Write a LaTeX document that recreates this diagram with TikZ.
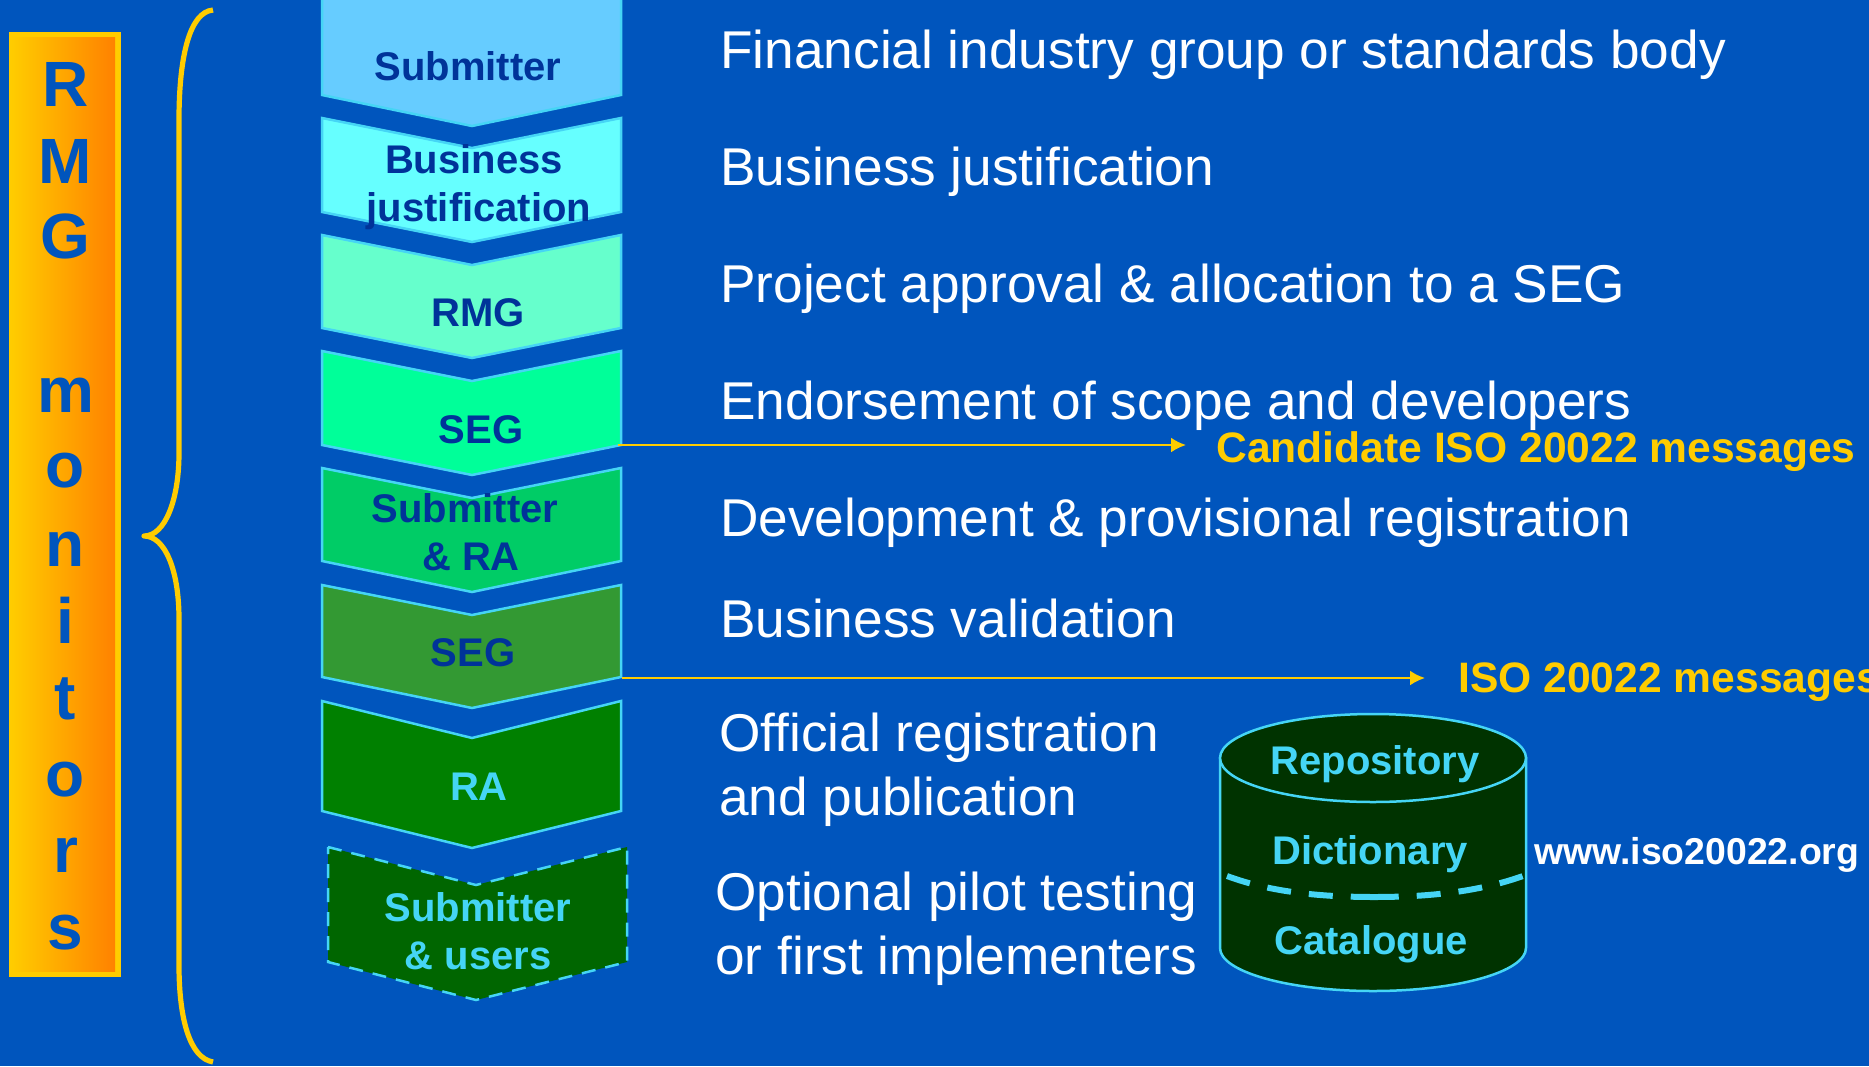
\documentclass[tikz,border=0pt]{standalone}
\usepackage{fontspec}
\setmainfont{Liberation Sans}
\usetikzlibrary{arrows.meta}
\definecolor{bgblue}{HTML}{0055BD}
\definecolor{gold}{HTML}{FFCC00}
\definecolor{orng}{HTML}{FF6600}
\definecolor{cyanline}{HTML}{45D5F5}
\definecolor{dkblue}{HTML}{003399}
\definecolor{chA}{HTML}{66CCFF}
\definecolor{chB}{HTML}{66FFFF}
\definecolor{chC}{HTML}{66FFCC}
\definecolor{chD}{HTML}{00FF99}
\definecolor{chE}{HTML}{00CC66}
\definecolor{chF}{HTML}{339933}
\definecolor{chG}{HTML}{008000}
\definecolor{chH}{HTML}{006600}
\definecolor{cylfill}{HTML}{003300}
\pgfdeclarehorizontalshading{rmgshade}{100bp}{color(0bp)=(gold);color(26bp)=(gold);color(93bp)=(orng);color(100bp)=(orng)}
\tikzset{
  chev/.style={draw=cyanline,line width=1.25pt,line join=miter,fill=#1},
  lab/.style={font=\bfseries\fontsize{20}{24}\selectfont,text=dkblue,anchor=base,inner sep=0pt},
  lablight/.style={lab,text=cyanline},
  body/.style={font=\fontsize{26.6}{32}\selectfont,text=white,anchor=base west,inner sep=0pt},
  goldlab/.style={font=\bfseries\fontsize{21.3}{25}\selectfont,text=gold,anchor=base west,inner sep=0pt},
  vert/.style={font=\bfseries\fontsize{32}{38}\selectfont,text=bgblue,anchor=base,inner sep=0pt},
  goldarrow/.style={draw=gold,line width=1.2pt,-{Latex[length=7.5pt,width=7.5pt]}},
  dashcyl/.style={draw=cyanline,line width=3pt,dash pattern=on 12pt off 9pt on 12pt off 9pt on 12pt off 9pt on 24pt off 9pt on 12pt off 9pt on 12pt off 9pt on 12pt off 9pt}
}
% #1 top, #2 notch, #3 side bottom, #4 tip, #5 fill, #6 extra style
\newcommand{\chevron}[6]{%
  \path[chev=#5,#6] (322,#1) -- (472,#2) -- (621,#1) -- (621,#3) -- (472,#4) -- (322,#3) -- cycle;}
\begin{document}
\begin{tikzpicture}[x=0.5pt,y=-0.5pt]
\useasboundingbox (0,0) rectangle (1869,1066);
\fill[bgblue] (0,0) rectangle (1869,1066);
% monitor bar
\fill[gold] (9,32) rectangle (121,977);
\shade[shading=rmgshade] (9,37) rectangle (115,971);
\foreach \c/\y/\n in {R/106/a,M/183/b,G/258/c,m/412/d,o/487/e,n/566/f,i/643/g,t/719/h,o/796/i,r/872/j,s/949/k}
  \node[vert] (let\n) at (65.5,\y) {\c};
% brace
\draw[gold,line width=2.6pt,line cap=butt,line join=round]
  (213,10) .. controls (190,12) and (179,55) .. (179,120) -- (179,453)
  .. controls (179,500) and (165,536) .. (144,536)
  .. controls (165,536) and (179,570) .. (179,619) -- (179,965)
  .. controls (179,1020) and (190,1058) .. (213,1062);
% chevrons
\path[chev=chA] (322,-2) -- (621,-2) -- (621,95) -- (472,126) -- (322,95) -- cycle;
\chevron{118}{148}{212}{242}{chB}{}
\chevron{235}{265}{328}{358}{chC}{}
\chevron{351}{381}{445}{475}{chD}{}
\chevron{468}{498}{561}{592}{chE}{}
\chevron{585}{615}{677}{708}{chF}{}
\chevron{701}{738}{811}{848}{chG}{}
\path[chev=chH,dash pattern=on 7pt off 5pt] (328,847) -- (476,885) -- (627,847) -- (627,962) -- (476,1000) -- (328,962) -- cycle;
% chevron labels
\node[lab] (n1) at (468,80) {Submitter};
\node[lab] (n2a) at (474,173) {Business};
\node[lab] (n2b) at (479,221) {justification};
\node[lab] (n3) at (478,326) {RMG};
\node[lab] (n4) at (481,443) {SEG};
\node[lab] (n5a) at (465,522) {Submitter};
\node[lab] (n5b) at (471,570) {\& RA};
\node[lab] (n6) at (473,666) {SEG};
\node[lablight] (n7) at (479,800) {RA};
\node[lablight] (n8a) at (478,921) {Submitter};
\node[lablight] (n8b) at (478,969) {\& users};
% right texts
\node[body] (t1) at (720,68) {Financial industry group or standards body};
\node[body] (t2) at (720,185) {Business justification};
\node[body] (t3) at (720,302) {Project approval \& allocation to a SEG};
\node[body] (t4) at (720,419) {Endorsement of scope and developers};
\node[body] (t5) at (720,536) {Development \& provisional registration};
\node[body] (t6) at (720,637) {Business validation};
\node[body] (t7a) at (719,751) {Official registration};
\node[body] (t7b) at (719,815) {and publication};
\node[body] (t8a) at (715,910) {Optional pilot testing};
\node[body] (t8b) at (715,974) {or first implementers};
% outputs
\node[goldlab] (cand) at (1216,462) {Candidate ISO 20022 messages};
\node[goldlab] (iso) at (1458,692) {ISO 20022 messages};
\coordinate (a1s) at (618,445);
\coordinate (a1e) at (1186,445);
\coordinate (a2s) at (622,678);
\coordinate (a2e) at (1425,678);
\draw[goldarrow] (a1s) -- (a1e);
\draw[goldarrow] (a2s) -- (a2e);
% repository cylinder
\path[draw=cyanline,line width=1.25pt,fill=cylfill]
  (1220,758) -- (1220,948) arc[start angle=180,end angle=0,x radius=153,y radius=43] -- (1526,758) -- cycle;
\path[draw=cyanline,line width=1.25pt,fill=cylfill] (1373,758) ellipse[x radius=153,y radius=44];
\coordinate (dl) at (1227,876);
\coordinate (dm) at (1374,897);
\coordinate (dr) at (1523,876);
\draw[dashcyl] (dl) .. controls (1270,892) and (1320,897) .. (dm) .. controls (1428,897) and (1478,892) .. (dr);
\node[lablight] (c1) at (1375,774) {Repository};
\node[lablight] (c2) at (1370,864) {Dictionary};
\node[lablight] (c3) at (1371,954) {Catalogue};
\node[font=\bfseries\fontsize{18.7}{23}\selectfont,text=white,anchor=base west,inner sep=0pt] (www) at (1534,864) {www.iso20022.org};
\end{tikzpicture}
\end{document}
